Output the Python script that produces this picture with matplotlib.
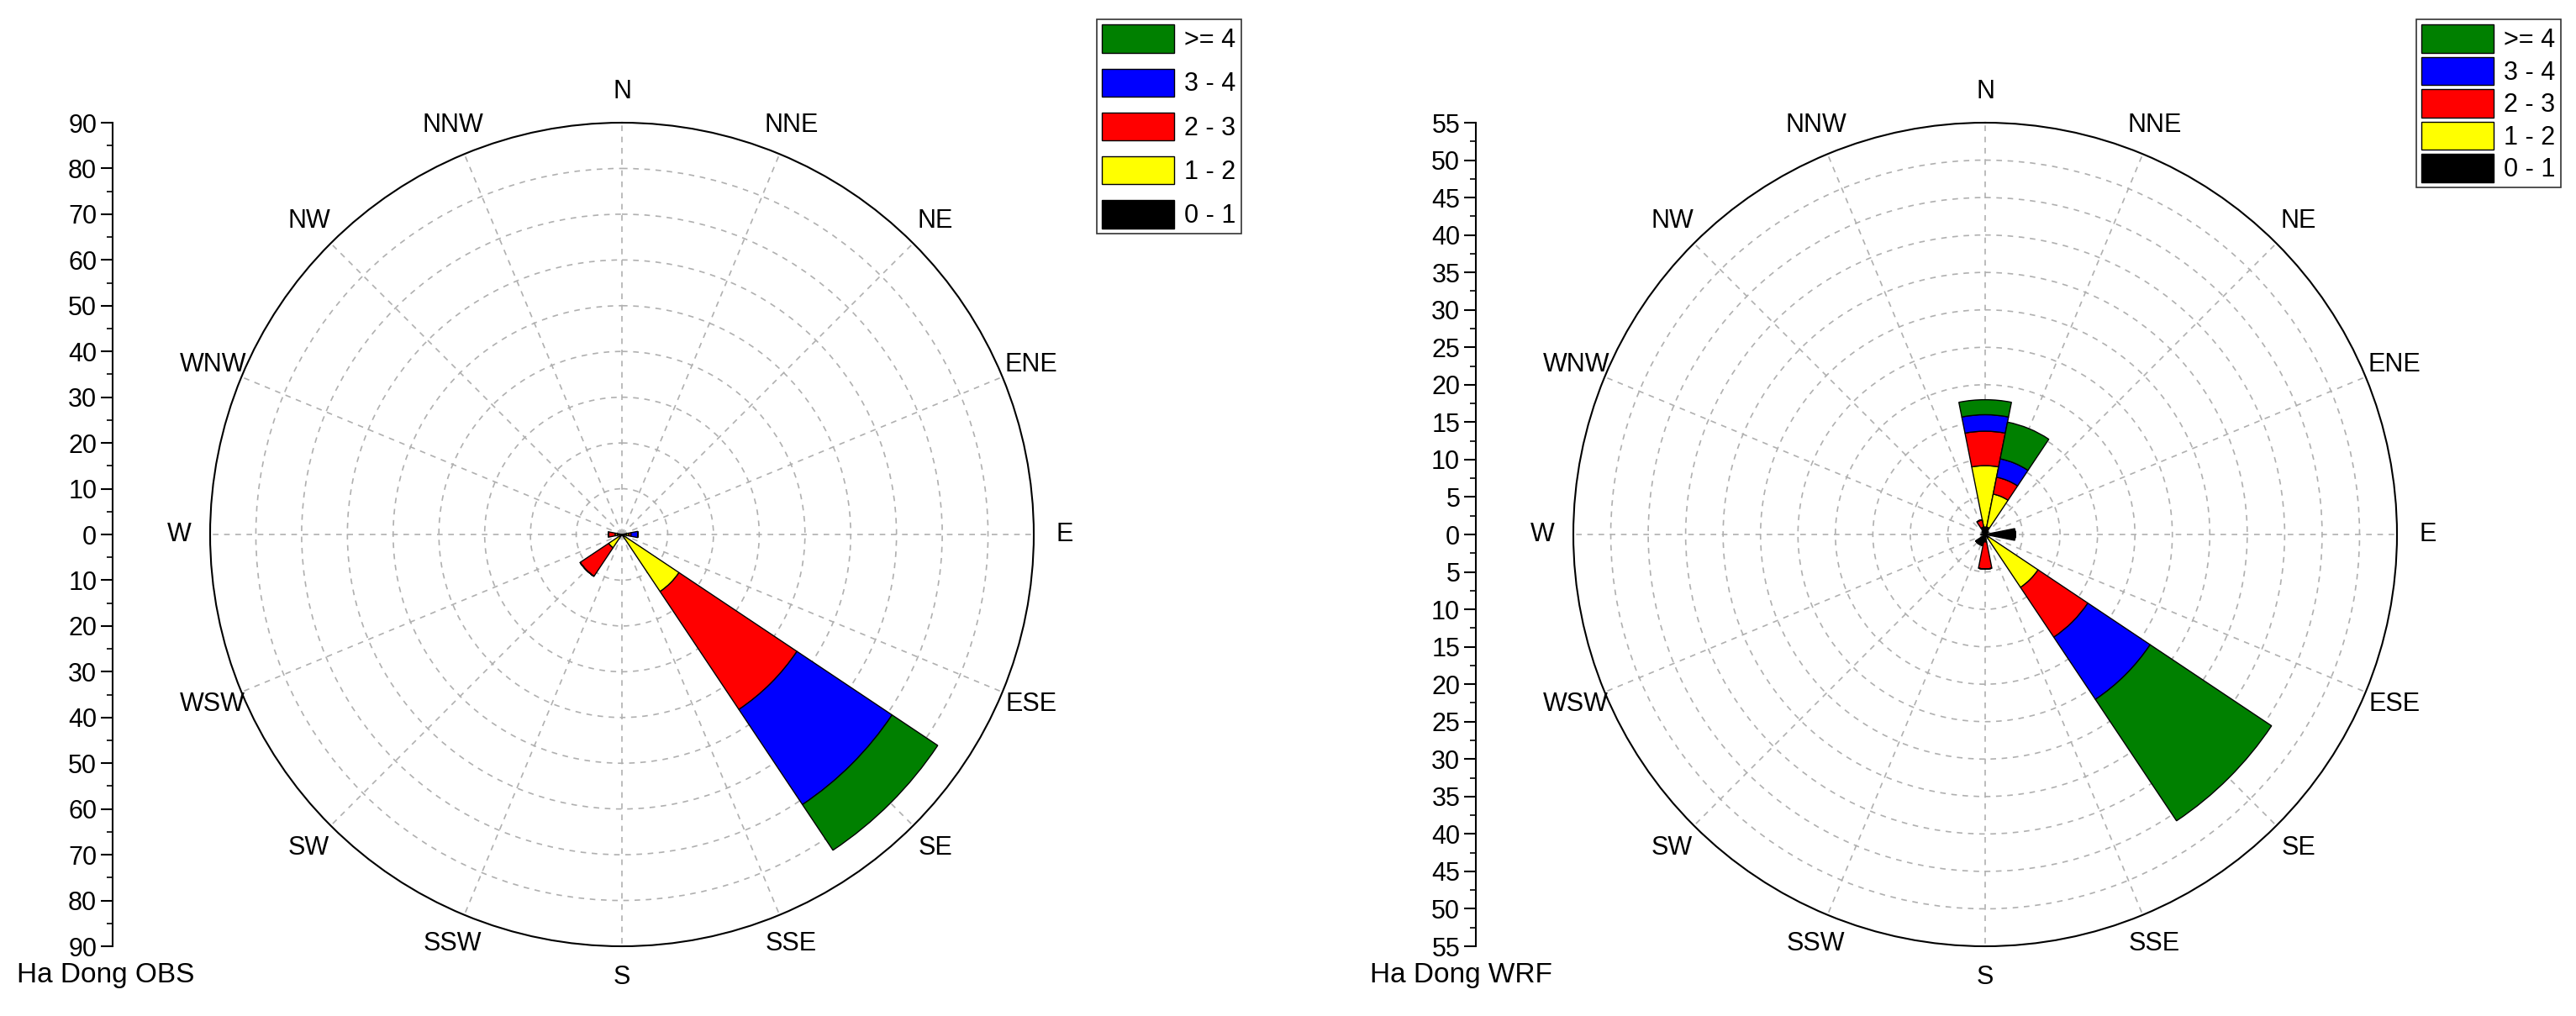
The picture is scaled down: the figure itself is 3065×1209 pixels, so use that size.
import numpy as np
import matplotlib.pyplot as plt
from matplotlib.patches import Patch

# 16 compass sectors, stacked frequencies per speed class
directions = ["N", "NNE", "NE", "ENE", "E", "ESE", "SE", "SSE",
              "S", "SSW", "SW", "WSW", "W", "WNW", "NW", "NNW"]
classes = ["0 - 1", "1 - 2", "2 - 3", "3 - 4", ">= 4"]
colors = ["black", "yellow", "red", "blue", "green"]

# per-class frequencies (not cumulative), one list per class
obs_0_1 = [0, 0, 0, 0, 1.0, 0, 0.5, 0, 0, 0, 0.5, 0, 1.0, 0, 0, 0]
obs_1_2 = [0, 0, 0, 0, 0.5, 0, 14.5, 0, 0, 0, 3.0, 0, 0.5, 0, 0, 0]
obs_2_3 = [0, 0, 0, 0, 0.5, 0, 31, 0, 0, 0, 7.5, 0, 1.5, 0, 0, 0]
obs_3_4 = [0, 0, 0, 0, 1.5, 0, 25, 0, 0, 0, 0, 0, 0, 0, 0, 0]
obs_4 = [0, 0, 0, 0, 0, 0, 12, 0, 0, 0, 0, 0, 0, 0, 0, 0]

wrf_0_1 = [1.0, 1.0, 0.5, 0, 4.0, 0, 0.5, 0, 1.0, 1.5, 1.5, 0, 0.5, 0, 0.5, 1.0]
wrf_1_2 = [8.2, 4.5, 0, 0, 0, 0, 8.0, 0, 0, 0, 0, 0, 0, 0, 0, 0]
wrf_2_3 = [4.6, 2.3, 0, 0, 0, 0, 8.0, 0, 3.6, 0, 0, 0, 0, 0, 0, 1.0]
wrf_3_4 = [2.2, 2.5, 0, 0, 0, 0, 10, 0, 0, 0, 0, 0, 0, 0, 0, 0]
wrf_4 = [2.0, 5.0, 0, 0, 0, 0, 19.5, 0, 0, 0, 0, 0, 0, 0, 0, 0]

obs = [obs_0_1, obs_1_2, obs_2_3, obs_3_4, obs_4]
wrf = [wrf_0_1, wrf_1_2, wrf_2_3, wrf_3_4, wrf_4]

plt.rcParams['font.family'] = ['Arial', 'Liberation Sans', 'DejaVu Sans']

fig = plt.figure(figsize=(30.65, 12.09), dpi=100)
W, H = 3065, 1209


def rose(cx, cy, r, data, rmax, step, label_step, axis_x, title, title_xy,
         leg_box, leg_spacing):
    ax = fig.add_axes([(cx - r) / W, 1 - (cy + r) / H, 2 * r / W, 2 * r / H],
                      projection='polar')
    ax.set_theta_zero_location('N')
    ax.set_theta_direction(-1)
    theta = np.deg2rad(np.arange(16) * 22.5)
    width = np.deg2rad(22.5)
    bottom = np.zeros(16)
    for vals, c in zip(data, colors):
        vals = np.array(vals)
        ax.bar(theta, vals, width=width, bottom=bottom, color=c,
               edgecolor='black', linewidth=1.0, zorder=3)
        bottom += vals
    ax.set_ylim(0, rmax)
    ax.set_yticks(np.arange(step, rmax, step))
    ax.set_yticklabels([])
    ax.set_xticks(theta)
    ax.set_xticklabels(directions, fontsize=22)
    ax.tick_params(axis='x', pad=16)
    ax.grid(True, color='#b0b0b0', linestyle=(0, (4, 4)), linewidth=1.2)
    ax.spines['polar'].set_linewidth(1.5)

    # vertical scale axis on the left
    ay = fig.add_axes([axis_x / W, 1 - (cy + r) / H, 0.001, 2 * r / H])
    ay.set_ylim(-rmax, rmax)
    ticks = np.arange(-rmax, rmax + 1, label_step)
    ay.set_yticks(ticks)
    ay.set_yticklabels([str(abs(int(t))) for t in ticks], fontsize=22)
    ay.set_yticks(np.arange(-rmax, rmax + 1, label_step / 2), minor=True)
    ay.tick_params(axis='y', which='major', length=10, width=1.5)
    ay.tick_params(axis='y', which='minor', length=5, width=1.2)
    ay.set_xticks([])
    for s in ['top', 'right', 'bottom']:
        ay.spines[s].set_visible(False)
    ay.spines['left'].set_linewidth(1.5)

    fig.text(title_xy[0] / W, 1 - title_xy[1] / H, title, fontsize=24,
             ha='left', va='center')

    handles = [Patch(facecolor=c, edgecolor='black', label=l)
               for c, l in zip(colors[::-1], classes[::-1])]
    leg = fig.legend(handles=handles, loc='upper right',
                     bbox_to_anchor=(leg_box[0] / W, 1 - leg_box[1] / H),
                     fontsize=22, frameon=True, fancybox=False,
                     handlelength=2.8, handleheight=1.3,
                     labelspacing=leg_spacing,
                     borderpad=0.2, handletextpad=0.4)
    leg.get_frame().set_edgecolor('black')
    leg.get_frame().set_linewidth(1.2)


rose(740, 636, 490, obs, 90, 10, 10, 134, "Ha Dong OBS", (20, 1160),
     (1492, 8), 0.6)
rose(2362, 636, 490, wrf, 55, 5, 5, 1756, "Ha Dong WRF", (1630, 1160),
     (3062, 8), 0.15)

fig.savefig("out.png", dpi=100, facecolor='white')
